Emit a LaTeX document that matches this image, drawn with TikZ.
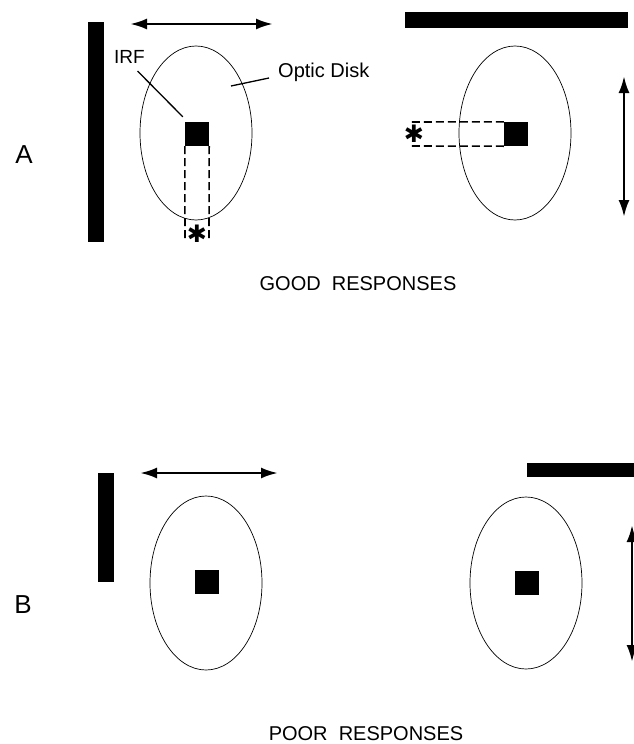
\documentclass[tikz,border=0pt]{standalone}
\usepackage{fontspec}
\setmainfont{Liberation Sans}
\newfontfamily\symfont{DejaVu Sans}
\usetikzlibrary{shapes.geometric}
\usetikzlibrary{arrows.meta}

\begin{document}
\begin{tikzpicture}[x=1pt,y=-1pt]
      \tikzset{
        disk/.style={draw, ellipse, line width=0.7pt, minimum width=112pt, minimum height=174pt, inner sep=0pt},
        irf/.style={fill, minimum size=24pt, inner sep=0pt},
        bar/.style={fill, inner sep=0pt},
        sweep/.style={{Latex[length=17pt,width=11pt]}-{Latex[length=17pt,width=11pt]}, line width=2.6pt},
        track/.style={line width=1.6pt, dash pattern=on 8pt off 4pt},
        lead/.style={line width=1.3pt},
        tag/.style={inner sep=0pt, anchor=base west, font=\fontsize{19}{19}\selectfont},
        panel/.style={inner sep=0pt, anchor=base, font=\fontsize{26}{26}\selectfont},
        caption/.style={inner sep=0pt, anchor=base, font=\fontsize{20}{20}\selectfont},
        ast/.style={inner sep=0pt, font=\symfont\fontsize{24}{24}\selectfont},
      }
      \useasboundingbox (0,0) rectangle (633,744);

      % A, left
      \node[bar, minimum width=16pt, minimum height=220pt] (barAl) at (96,132) {};
      \node[disk] (diskAl) at (196,133) {};
      \node[irf] (sqAl) at (197,134) {};
      \coordinate (hAl1) at (130,24);
      \coordinate (hAl2) at (273,24);
      \draw[sweep] (hAl1) -- (hAl2);
      \coordinate (tAl1) at (185,240);
      \coordinate (tAl2) at (209,240);
      \draw[track] (sqAl.south west) -- (tAl1);
      \draw[track] (sqAl.south east) -- (tAl2);
      \node[ast] (stAl) at (197,234) {✱};
      \node[tag] (lbIRF) at (114,63) {IRF};
      \node[tag, font=\fontsize{20}{20}\selectfont] (lbOD) at (278,77) {Optic Disk};
      \coordinate (odAl) at (231,86);
      \draw[lead] ([xshift=8pt,yshift=-8pt]lbIRF.base) -- ([xshift=-2pt,yshift=5pt]sqAl.north west);
      \draw[lead] (odAl) -- ([xshift=-9pt,yshift=-1pt]lbOD.base west);

      % A, right
      \node[bar, minimum width=223pt, minimum height=16pt] (barAr) at (516.5,20) {};
      \node[disk] (diskAr) at (515,133) {};
      \node[irf] (sqAr) at (516,134) {};
      \coordinate (tAr1) at (410,122);
      \coordinate (tAr2) at (410,146);
      \draw[track] (sqAr.north west) -- (tAr1);
      \draw[track] (sqAr.south west) -- (tAr2);
      \node[ast] (stAr) at (414,134) {✱};
      \coordinate (vAr1) at (624,76);
      \coordinate (vAr2) at (624,217);
      \draw[sweep] (vAr1) -- (vAr2);

      \node[panel] (pA) at (24,163) {A};
      \node[caption] (capA) at (358,290) {GOOD\ \ RESPONSES};

      % B, left
      \node[bar, minimum width=16pt, minimum height=109pt] (barBl) at (106,527.5) {};
      \node[disk] (diskBl) at (206,583) {};
      \node[irf] (sqBl) at (207,582) {};
      \coordinate (hBl1) at (140,473);
      \coordinate (hBl2) at (278,473);
      \draw[sweep] (hBl1) -- (hBl2);

      % B, right
      \node[bar, minimum width=110pt, minimum height=14pt] (barBr) at (582,470) {};
      \node[disk, minimum height=172pt] (diskBr) at (526,583) {};
      \node[irf] (sqBr) at (527,583) {};
      \coordinate (vBr1) at (632,525);
      \coordinate (vBr2) at (632,662);
      \draw[sweep] (vBr1) -- (vBr2);

      \node[panel] (pB) at (23,613) {B};
      \node[caption] (capB) at (366,740) {POOR\ \ RESPONSES};
\end{tikzpicture}
\end{document}
